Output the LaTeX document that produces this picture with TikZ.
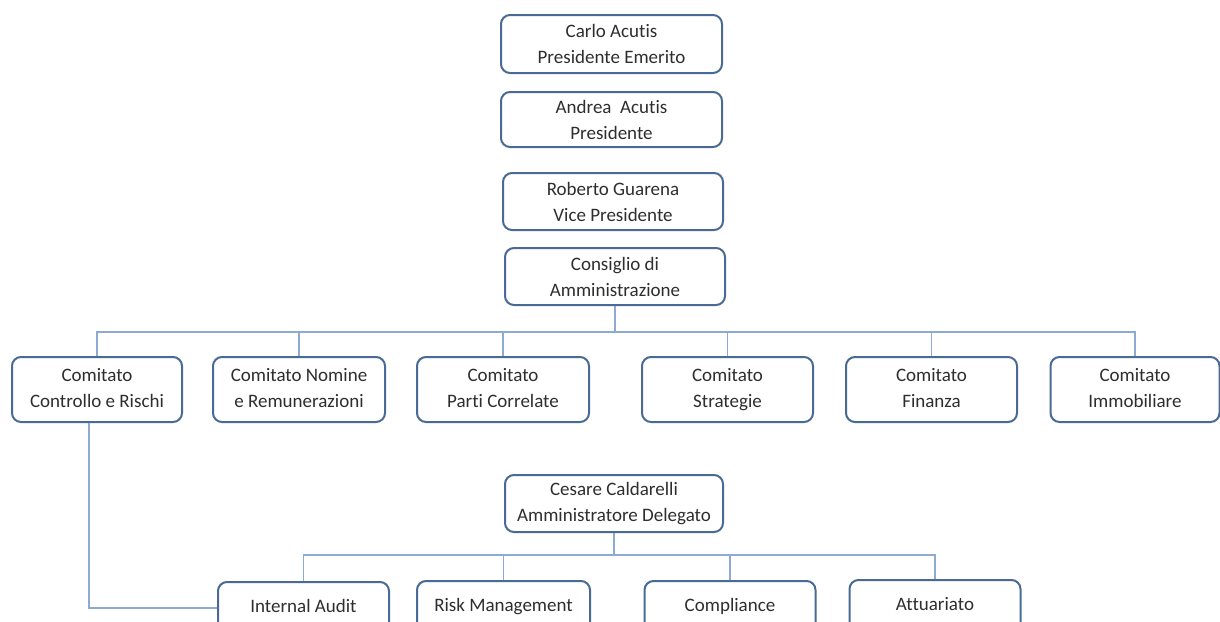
\documentclass[tikz,border=0pt]{standalone}
\usepackage{fontspec}
\setmainfont{Carlito}[RawFeature={-liga;-clig}]
\definecolor{boxline}{HTML}{4A6A96}
\definecolor{wire}{HTML}{8FAAD2}
\definecolor{ink}{HTML}{2E2E2E}
\tikzset{
  orgbox/.style={draw=boxline, line width=2pt, rounded corners=9pt, fill=white,
    text=ink, align=center, inner sep=0pt,
    font=\fontsize{19}{26}\selectfont},
  unitbox/.style={orgbox, anchor=north, text height=14pt, text depth=40pt,
    inner ysep=16pt, minimum width=171pt},
  wireline/.style={draw=wire, line width=1.6pt}
}
\begin{document}
\begin{tikzpicture}[x=1pt, y=-1pt]
\useasboundingbox[fill=white] (0,0) rectangle (1220,621);
\clip (0,0) rectangle (1220,621);

% top of the organisation
\node[orgbox, minimum width=221pt, minimum height=58pt] (carlo) at (611.5,44)
  {Carlo Acutis\\Presidente Emerito};
\node[orgbox, minimum width=221pt, minimum height=55pt] (andrea) at (611.5,119.5)
  {Andrea\ \ Acutis\\Presidente};
\node[orgbox, minimum width=220pt, minimum height=57pt] (roberto) at (613,201.5)
  {Roberto Guarena\\Vice Presidente};
\node[orgbox, minimum width=220pt, minimum height=57pt] (cda) at (615,276.5)
  {Consiglio di\\Amministrazione};

% board committees
\foreach \name/\cx/\w/\txt in {
  c1/97/170/{Comitato\\Controllo e Rischi},
  c2/299/172/{Comitato Nomine\\e Remunerazioni},
  c3/503/172/{Comitato\\Parti Correlate},
  c4/727.5/171/{Comitato\\Strategie},
  c5/931.5/171/{Comitato\\Finanza},
  c6/1135/169/{Comitato\\Immobiliare}}
  \node[orgbox, minimum width=\w pt, minimum height=65pt] (\name) at (\cx,389.5)
    {\strut\txt\strut};

% chief executive
\node[orgbox, minimum width=218pt, minimum height=57pt] (ceo) at (614,503.5)
  {Cesare Caldarelli\\Amministratore Delegato};

% control functions
\node[unitbox] (ia) at (303.5,581) {Internal Audit};
\node[unitbox, minimum width=173pt] (rm) at (503.5,580) {Risk Management};
\node[unitbox] (co) at (730,580) {Compliance};
\node[unitbox] (at) at (935,579) {Attuariato};

% connectors
\coordinate (busA) at ([yshift=-26pt]cda.south);
\coordinate (busB) at ([yshift=-22pt]ceo.south);
\draw[wireline] (cda.south) -- (busA);
\foreach \n in {c1,c2,c3,c4,c5,c6}
  \draw[wireline] (\n.north) |- (busA);
\draw[wireline] (ceo.south) -- (busB);
\foreach \n in {ia,rm,co,at}
  \draw[wireline] (\n.north) |- (busB);
\coordinate (iaIn) at ([yshift=4pt]ia.base west);
\draw[wireline] ([xshift=-8pt]c1.south) |- (iaIn);
\end{tikzpicture}
\end{document}
